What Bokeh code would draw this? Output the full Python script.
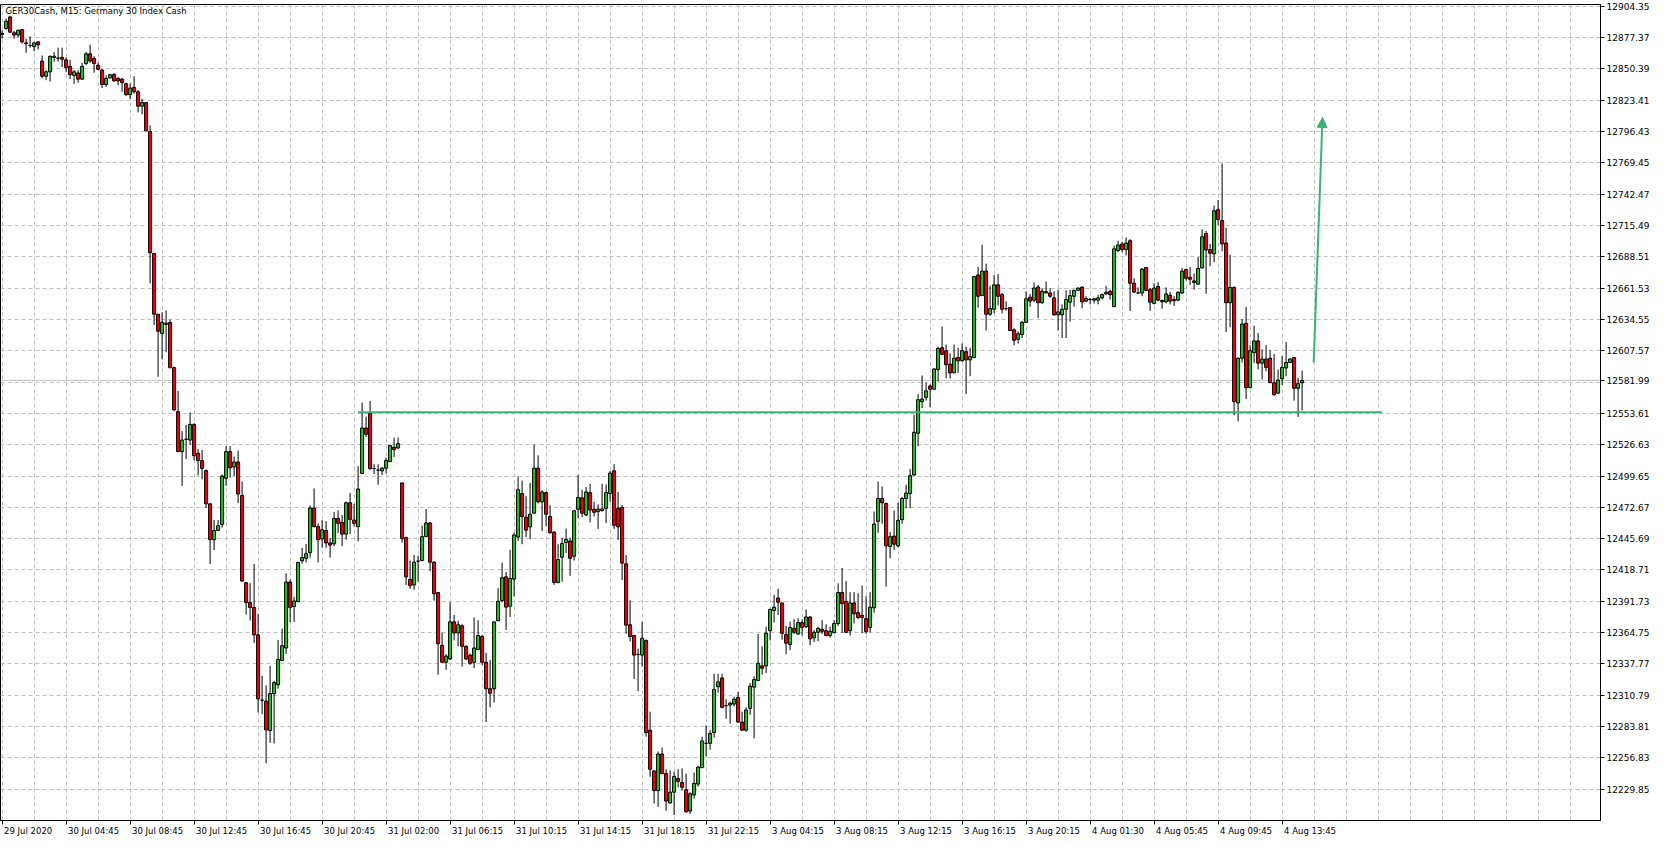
from bokeh.plotting import figure
from bokeh.models import (FixedTicker, Range1d, Span, Label, Arrow, NormalHead,
                          PrintfTickFormatter, ColumnDataSource)
from bokeh.embed import file_html
from bokeh.resources import INLINE

# ---------------- data (GER30Cash, M15) ----------------
title_text = "GER30Cash, M15:  Germany 30 Index Cash"

opens = [12881.0, 12885.2, 12895.1, 12881.4, 12879.5, 12884.2, 12872.7, 12870.5, 12869.6, 12873.6,
         12857.1, 12844.0, 12847.8, 12860.2, 12859.6, 12860.2, 12858.1, 12852.5, 12844.7, 12846.8,
         12841.5, 12855.0, 12863.3, 12859.3, 12853.4, 12849.3, 12836.9, 12842.5, 12845.6, 12842.2,
         12841.5, 12837.5, 12828.2, 12834.4, 12830.6, 12818.2, 12821.3, 12796.4, 12691.4, 12639.0,
         12622.5, 12630.3, 12631.9, 12593.0, 12555.0, 12520.7, 12531.3, 12530.6, 12544.1, 12519.3,
         12512.9, 12504.4, 12475.7, 12444.8, 12452.7, 12458.0, 12497.7, 12520.7, 12507.5, 12511.7,
         12482.8, 12407.7, 12390.6, 12386.4, 12362.8, 12306.6, 12305.7, 12280.4, 12312.2, 12319.8,
         12340.8, 12351.5, 12408.3, 12387.2, 12391.4, 12426.6, 12428.8, 12433.6, 12472.1, 12456.1,
         12445.4, 12452.7, 12442.0, 12441.2, 12463.1, 12459.7, 12449.6, 12476.6, 12461.7, 12456.1,
         12501.9, 12541.0, 12553.6, 12506.1, 12504.7, 12504.1, 12506.4, 12512.0, 12524.4, 12523.8,
         12493.7, 12446.5, 12410.6, 12405.8, 12426.3, 12426.9, 12447.4, 12459.2, 12425.4, 12399.3,
         12353.8, 12339.2, 12342.0, 12374.0, 12364.5, 12370.6, 12352.9, 12345.3, 12339.2, 12350.1,
         12361.4, 12339.2, 12316.4, 12316.4, 12374.9, 12392.3, 12412.8, 12387.5, 12410.8, 12447.1,
         12484.5, 12464.2, 12455.8, 12467.6, 12506.4, 12477.4, 12485.3, 12464.8, 12451.3, 12408.0,
         12429.7, 12442.3, 12443.7, 12430.5, 12471.0, 12480.8, 12466.2, 12485.3, 12471.0, 12469.0,
         12469.9, 12471.8, 12484.5, 12504.1, 12471.8, 12472.6, 12424.0, 12371.5, 12362.2, 12345.9,
         12345.4, 12358.0, 12280.7, 12245.6, 12228.7, 12260.2, 12243.3, 12218.0, 12227.3, 12239.1,
         12235.7, 12229.3, 12211.0, 12225.0, 12234.3, 12248.4, 12269.4, 12269.4, 12278.7, 12318.1,
         12325.7, 12301.8, 12302.3, 12303.2, 12308.8, 12287.7, 12280.7, 12299.5, 12317.8, 12323.4,
         12336.1, 12336.1, 12366.4, 12383.8, 12394.5, 12390.3, 12363.0, 12354.6, 12368.4, 12363.6,
         12373.4, 12369.8, 12378.2, 12360.3, 12365.0, 12367.6, 12366.4, 12362.2, 12364.7, 12372.6,
         12399.3, 12391.7, 12366.4, 12390.3, 12381.9, 12379.6, 12376.8, 12369.2, 12386.1, 12460.6,
         12480.3, 12476.0, 12438.9, 12447.9, 12439.5, 12462.0, 12480.3, 12484.5, 12500.5, 12536.5,
         12563.7, 12567.4, 12577.2, 12574.4, 12591.3, 12610.1, 12607.6, 12596.0, 12588.5, 12601.7,
         12598.9, 12606.7, 12599.7, 12601.7, 12672.8, 12655.1, 12676.1, 12639.0, 12643.3, 12664.3,
         12655.9, 12643.8, 12644.7, 12625.5, 12617.4, 12621.6, 12632.0, 12653.7, 12651.1, 12662.4,
         12648.9, 12658.4, 12657.3, 12653.1, 12638.5, 12638.5, 12643.3, 12649.4, 12654.5, 12659.6,
         12662.4, 12650.3, 12651.7, 12651.1, 12651.1, 12653.1, 12656.5, 12658.7, 12645.5, 12693.8,
         12699.5, 12694.7, 12702.3, 12665.7, 12657.3, 12657.3, 12679.2, 12660.1, 12648.3, 12662.9,
         12650.8, 12649.7, 12655.3, 12651.7, 12651.1, 12657.3, 12677.5, 12670.8, 12667.7, 12664.9,
         12678.9, 12708.5, 12694.7, 12691.0, 12729.0, 12719.7, 12700.3, 12648.9, 12662.1, 12562.6,
         12601.1, 12631.2, 12575.8, 12605.9, 12616.0, 12596.9, 12600.3, 12601.1, 12580.0, 12571.0,
         12583.4, 12592.7, 12597.4, 12601.7, 12575.2, 12580.0]

highs = [12883.6, 12893.6, 12896.1, 12883.0, 12884.2, 12884.8, 12876.4, 12878.3, 12873.6, 12874.3,
         12861.8, 12849.3, 12861.8, 12864.9, 12868.6, 12868.6, 12860.2, 12858.1, 12849.3, 12849.3,
         12855.6, 12864.9, 12871.1, 12861.2, 12855.6, 12850.3, 12844.7, 12846.2, 12846.8, 12843.1,
         12842.5, 12838.4, 12837.8, 12844.0, 12832.2, 12824.4, 12821.9, 12801.7, 12691.4, 12639.0,
         12640.6, 12642.2, 12634.4, 12593.8, 12573.0, 12538.4, 12543.8, 12554.4, 12545.2, 12522.7,
         12522.1, 12505.3, 12475.7, 12461.7, 12461.7, 12501.0, 12525.5, 12525.5, 12516.5, 12521.6,
         12494.9, 12408.3, 12407.4, 12423.8, 12380.8, 12327.6, 12319.2, 12336.1, 12323.1, 12358.3,
         12368.1, 12415.9, 12410.3, 12395.6, 12425.2, 12437.8, 12441.2, 12474.4, 12489.0, 12458.9,
         12461.7, 12460.8, 12446.2, 12468.7, 12470.1, 12465.9, 12477.7, 12485.0, 12475.7, 12508.1,
         12562.9, 12550.8, 12564.3, 12509.8, 12509.8, 12507.5, 12515.4, 12526.6, 12532.8, 12532.8,
         12493.7, 12447.4, 12426.9, 12431.6, 12431.1, 12456.9, 12471.3, 12460.0, 12426.3, 12399.3,
         12364.7, 12346.2, 12390.9, 12379.9, 12374.9, 12372.0, 12353.8, 12346.7, 12377.7, 12375.4,
         12362.8, 12347.3, 12341.1, 12374.0, 12403.0, 12424.9, 12417.0, 12436.1, 12450.7, 12499.1,
         12495.7, 12482.2, 12493.7, 12526.6, 12517.4, 12487.3, 12486.4, 12474.6, 12452.2, 12440.9,
         12446.5, 12454.4, 12446.5, 12470.4, 12500.5, 12487.8, 12490.1, 12492.9, 12477.4, 12475.2,
         12492.9, 12492.3, 12504.1, 12509.8, 12485.9, 12474.6, 12431.6, 12392.6, 12362.2, 12351.0,
         12374.0, 12358.9, 12296.7, 12246.1, 12262.4, 12265.8, 12247.0, 12246.0, 12245.0, 12247.0,
         12247.8, 12243.3, 12227.3, 12244.2, 12249.8, 12275.1, 12284.9, 12280.7, 12329.3, 12329.3,
         12329.3, 12307.4, 12305.2, 12309.6, 12313.6, 12296.7, 12300.4, 12321.5, 12327.1, 12363.6,
         12353.0, 12369.8, 12385.5, 12397.3, 12402.4, 12390.3, 12370.6, 12374.3, 12376.3, 12377.1,
         12376.3, 12384.7, 12379.1, 12367.0, 12369.8, 12375.4, 12372.0, 12369.8, 12375.4, 12407.2,
         12420.4, 12409.1, 12399.6, 12399.6, 12398.7, 12405.2, 12395.9, 12399.6, 12469.0, 12494.9,
         12490.6, 12476.6, 12451.3, 12469.9, 12476.6, 12481.7, 12492.1, 12505.6, 12552.5, 12570.2,
         12586.2, 12580.0, 12578.6, 12592.7, 12611.0, 12628.4, 12612.9, 12605.3, 12612.9, 12610.1,
         12613.7, 12611.0, 12610.1, 12671.9, 12679.8, 12698.9, 12682.6, 12663.5, 12672.8, 12673.6,
         12657.3, 12650.0, 12644.7, 12626.9, 12624.1, 12633.4, 12658.7, 12656.5, 12666.3, 12664.3,
         12661.5, 12667.1, 12661.5, 12658.7, 12660.1, 12647.5, 12659.6, 12660.1, 12660.1, 12662.1,
         12662.9, 12654.5, 12653.1, 12653.1, 12655.9, 12656.8, 12663.5, 12660.1, 12698.1, 12702.3,
         12701.4, 12705.1, 12703.7, 12670.0, 12662.1, 12678.9, 12679.8, 12661.5, 12665.7, 12666.6,
         12651.7, 12662.1, 12658.1, 12654.5, 12658.7, 12678.9, 12678.4, 12679.8, 12674.2, 12688.2,
         12712.1, 12710.7, 12699.5, 12732.6, 12737.4, 12768.9, 12713.5, 12690.2, 12662.9, 12601.7,
         12634.8, 12645.2, 12612.3, 12629.2, 12622.7, 12608.7, 12612.3, 12608.1, 12604.7, 12591.3,
         12603.1, 12615.1, 12601.1, 12601.7, 12584.2, 12590.4]

lows = [12876.4, 12884.2, 12881.1, 12876.4, 12877.4, 12872.1, 12864.3, 12868.6, 12865.5, 12867.1,
        12842.2, 12840.6, 12839.4, 12856.5, 12856.5, 12851.8, 12847.8, 12841.5, 12837.5, 12838.4,
        12841.2, 12853.4, 12855.6, 12847.1, 12849.3, 12833.8, 12834.7, 12842.2, 12839.4, 12836.2,
        12830.6, 12826.9, 12824.4, 12829.1, 12812.9, 12811.3, 12796.4, 12665.5, 12629.7, 12585.2,
        12600.1, 12606.3, 12592.3, 12555.9, 12520.7, 12491.1, 12514.3, 12526.4, 12513.1, 12500.2,
        12496.8, 12472.1, 12423.8, 12435.9, 12452.7, 12455.2, 12491.2, 12498.2, 12499.6, 12476.3,
        12409.1, 12380.2, 12375.1, 12355.7, 12295.9, 12294.5, 12252.3, 12269.7, 12269.2, 12316.4,
        12340.8, 12346.5, 12373.7, 12374.0, 12391.4, 12424.3, 12425.2, 12429.4, 12455.2, 12425.2,
        12437.8, 12437.8, 12429.4, 12439.2, 12450.5, 12439.2, 12444.8, 12449.6, 12456.1, 12443.4,
        12501.9, 12533.4, 12505.0, 12501.3, 12492.1, 12500.5, 12501.9, 12512.0, 12515.9, 12523.0,
        12442.3, 12405.8, 12402.4, 12401.6, 12408.6, 12426.0, 12447.4, 12417.6, 12392.3, 12328.5,
        12339.2, 12332.7, 12341.1, 12358.0, 12352.9, 12335.5, 12341.1, 12336.9, 12334.1, 12350.1,
        12336.9, 12287.7, 12300.4, 12304.6, 12374.9, 12390.9, 12367.0, 12378.2, 12395.9, 12443.7,
        12440.9, 12447.1, 12445.1, 12467.6, 12476.0, 12452.2, 12456.4, 12450.2, 12405.8, 12407.2,
        12408.6, 12433.3, 12413.4, 12426.9, 12463.4, 12464.2, 12464.8, 12459.7, 12464.8, 12454.1,
        12469.0, 12459.2, 12477.4, 12454.1, 12444.6, 12410.0, 12363.6, 12357.1, 12324.8, 12314.4,
        12335.5, 12275.1, 12240.5, 12217.5, 12214.6, 12242.8, 12211.3, 12217.5, 12207.6, 12231.5,
        12228.7, 12209.6, 12208.5, 12221.7, 12232.1, 12248.4, 12258.2, 12263.8, 12274.2, 12313.0,
        12299.5, 12290.5, 12286.3, 12301.2, 12287.2, 12279.9, 12279.3, 12293.9, 12273.7, 12323.4,
        12328.5, 12329.9, 12358.0, 12373.5, 12379.9, 12358.6, 12346.2, 12349.5, 12363.6, 12362.8,
        12362.2, 12368.7, 12353.8, 12356.6, 12357.4, 12363.6, 12361.6, 12360.3, 12364.2, 12370.6,
        12364.5, 12364.5, 12362.2, 12372.6, 12376.3, 12364.2, 12363.6, 12365.0, 12381.9, 12450.7,
        12458.6, 12404.4, 12428.8, 12436.1, 12438.1, 12458.6, 12471.8, 12471.8, 12499.9, 12525.2,
        12558.1, 12564.6, 12558.9, 12574.4, 12580.9, 12603.9, 12583.7, 12583.7, 12588.5, 12588.5,
        12598.3, 12570.2, 12585.6, 12601.1, 12644.7, 12655.1, 12625.0, 12637.6, 12639.9, 12646.6,
        12639.6, 12642.0, 12625.0, 12612.3, 12613.7, 12618.5, 12631.5, 12645.5, 12649.4, 12635.7,
        12648.0, 12657.3, 12653.1, 12637.6, 12625.0, 12618.5, 12618.5, 12632.6, 12645.5, 12659.6,
        12644.1, 12649.4, 12647.5, 12648.3, 12647.5, 12651.7, 12655.9, 12651.7, 12645.5, 12692.4,
        12692.4, 12689.6, 12641.8, 12657.3, 12656.7, 12654.5, 12658.7, 12641.8, 12647.5, 12650.3,
        12643.8, 12648.3, 12647.5, 12646.1, 12650.3, 12656.5, 12668.0, 12664.3, 12660.1, 12664.3,
        12678.4, 12656.7, 12680.4, 12684.0, 12715.5, 12693.3, 12623.6, 12627.8, 12551.9, 12546.8,
        12597.4, 12565.9, 12575.2, 12596.9, 12591.3, 12582.8, 12589.9, 12580.0, 12568.8, 12570.2,
        12578.0, 12585.6, 12596.9, 12564.6, 12550.5, 12556.1]

closes = [12880.0, 12891.4, 12882.0, 12879.5, 12883.6, 12873.6, 12872.1, 12870.5, 12872.7, 12871.1,
          12844.0, 12847.8, 12861.2, 12861.2, 12859.6, 12858.7, 12851.5, 12845.3, 12847.8, 12841.5,
          12852.5, 12863.3, 12857.1, 12855.0, 12850.0, 12836.9, 12842.2, 12845.3, 12840.0, 12840.0,
          12838.4, 12828.2, 12833.8, 12830.6, 12818.2, 12821.3, 12797.0, 12692.0, 12639.0, 12624.4,
          12631.9, 12631.3, 12593.0, 12556.5, 12520.7, 12530.6, 12531.3, 12544.1, 12517.1, 12512.9,
          12506.1, 12475.7, 12444.8, 12452.7, 12456.9, 12499.6, 12520.7, 12506.7, 12511.7, 12484.2,
          12409.1, 12390.6, 12386.4, 12362.8, 12307.7, 12306.6, 12281.0, 12312.2, 12321.7, 12341.7,
          12353.5, 12408.3, 12386.4, 12392.0, 12425.2, 12429.4, 12432.7, 12472.1, 12456.1, 12444.8,
          12453.3, 12442.0, 12440.1, 12463.1, 12458.9, 12449.6, 12476.6, 12462.3, 12458.9, 12488.4,
          12541.0, 12535.6, 12506.1, 12506.1, 12504.7, 12506.4, 12513.1, 12525.8, 12522.4, 12527.5,
          12445.7, 12412.8, 12405.2, 12425.4, 12426.3, 12447.4, 12459.2, 12425.4, 12398.2, 12355.2,
          12339.2, 12344.5, 12374.0, 12364.5, 12371.5, 12352.9, 12342.0, 12338.3, 12351.5, 12362.2,
          12339.2, 12316.4, 12312.5, 12374.0, 12391.7, 12412.0, 12386.7, 12411.4, 12448.8, 12487.8,
          12464.8, 12453.0, 12466.7, 12506.4, 12477.4, 12485.9, 12466.7, 12450.7, 12408.0, 12427.7,
          12441.5, 12445.1, 12428.8, 12469.6, 12481.1, 12467.6, 12485.9, 12470.4, 12468.4, 12471.0,
          12471.3, 12485.3, 12502.2, 12457.2, 12455.8, 12424.6, 12371.2, 12361.4, 12345.4, 12345.9,
          12359.9, 12278.7, 12247.0, 12228.7, 12260.2, 12243.3, 12219.7, 12227.3, 12240.8, 12236.6,
          12231.5, 12210.4, 12225.9, 12234.9, 12248.9, 12271.4, 12269.4, 12277.9, 12315.8, 12322.3,
          12300.4, 12301.8, 12304.0, 12307.4, 12287.7, 12280.7, 12298.1, 12318.6, 12324.3, 12338.3,
          12334.1, 12364.2, 12384.7, 12386.6, 12390.9, 12364.2, 12355.7, 12369.2, 12365.0, 12373.4,
          12369.2, 12378.2, 12359.4, 12365.0, 12368.4, 12365.9, 12362.2, 12365.9, 12372.6, 12399.3,
          12389.7, 12365.0, 12390.3, 12381.0, 12377.7, 12377.7, 12365.6, 12386.6, 12458.3, 12480.3,
          12476.6, 12439.5, 12447.4, 12440.9, 12461.4, 12480.3, 12485.0, 12499.9, 12537.3, 12565.4,
          12565.9, 12573.0, 12574.4, 12591.8, 12609.5, 12604.5, 12595.5, 12588.5, 12601.1, 12598.9,
          12607.6, 12599.7, 12602.5, 12671.4, 12654.5, 12676.1, 12639.0, 12643.8, 12664.3, 12654.5,
          12643.3, 12643.8, 12625.0, 12616.6, 12622.2, 12632.0, 12652.3, 12650.3, 12661.5, 12648.9,
          12658.7, 12657.3, 12654.5, 12638.5, 12641.0, 12643.3, 12651.7, 12655.1, 12659.6, 12661.5,
          12649.7, 12652.5, 12651.7, 12652.3, 12653.1, 12655.9, 12657.9, 12655.9, 12695.3, 12698.6,
          12694.7, 12700.3, 12665.7, 12658.1, 12657.3, 12677.8, 12659.6, 12649.4, 12661.5, 12651.1,
          12649.7, 12656.5, 12650.3, 12650.6, 12657.9, 12676.1, 12670.0, 12669.1, 12666.3, 12678.4,
          12705.7, 12694.4, 12691.6, 12728.1, 12720.5, 12699.5, 12648.9, 12662.1, 12563.7, 12601.1,
          12630.6, 12575.8, 12607.6, 12616.0, 12596.9, 12600.3, 12593.2, 12580.0, 12569.6, 12582.3,
          12593.2, 12597.4, 12600.5, 12575.2, 12579.2, 12581.99]

# time-axis labels (bar index -> label)
time_tick_bars = [0, 16, 32, 48, 64, 80, 96, 112, 128, 144, 160, 176, 192, 208, 224, 240, 256, 272, 288, 304, 320]
time_tick_labels = ["29 Jul 2020", "30 Jul 04:45", "30 Jul 08:45", "30 Jul 12:45", "30 Jul 16:45",
                    "30 Jul 20:45", "31 Jul 02:00", "31 Jul 06:15", "31 Jul 10:15", "31 Jul 14:15",
                    "31 Jul 18:15", "31 Jul 22:15", "3 Aug 04:15", "3 Aug 08:15", "3 Aug 12:15",
                    "3 Aug 16:15", "3 Aug 20:15", "4 Aug 01:30", "4 Aug 05:45", "4 Aug 09:45",
                    "4 Aug 13:45"]

# price-axis grid levels
price_top_tick = 12904.35
price_step = 26.98
price_tick_count = 26

current_price = 12581.99
level_price = 12554.5
level_bars = [89, 345]
arrow_bars = [327.9, 330.1]
arrow_prices = [12597.4, 12808.5]

y_view = [12202.9, 12905.8]

# ---------------- layout / styling ----------------
FRAME_W = 1600
FRAME_H = 816
BAR_PX = 4.0
x_view = [-0.4, -0.4 + FRAME_W / BAR_PX]

BULL = "#2EB82E"
BEAR = "#F00000"
GRID = "#C0C0C0"
MARK = "#3CB371"
FONT = "DejaVu Sans"
XFS = 8.5

# approximate DejaVu Sans advance widths (em) -> used to left-align time labels
_W = {c: 0.636 for c in "0123456789"}
_W.update({" ": 0.318, ":": 0.337, "J": 0.295, "u": 0.634, "l": 0.278, "A": 0.684, "g": 0.635})


def text_px(s, size):
    return sum(_W.get(ch, 0.6) for ch in s) * size


n = len(opens)
src = ColumnDataSource(dict(
    x=list(range(n)), open=opens, high=highs, low=lows, close=closes,
    top=[max(o, c) for o, c in zip(opens, closes)],
    bottom=[min(o, c) for o, c in zip(opens, closes)],
    color=[BULL if c >= o else BEAR for o, c in zip(opens, closes)],
))

p = figure(frame_width=FRAME_W, frame_height=FRAME_H,
           x_range=Range1d(*x_view), y_range=Range1d(*y_view),
           output_backend="svg", toolbar_location=None,
           y_axis_location="right",
           min_border_left=0, min_border_right=0, min_border_top=4, min_border_bottom=0)
p.background_fill_color = "white"
p.border_fill_color = "white"
p.outline_line_color = "black"
p.outline_line_width = 1

# x axis: labels placed to the right of their tick marks (MetaTrader style)
label_centers = [round(b + (2 + text_px(lab, XFS) / 2) / BAR_PX, 3)
                 for b, lab in zip(time_tick_bars, time_tick_labels)]
p.xaxis.ticker = FixedTicker(ticks=label_centers, minor_ticks=time_tick_bars)
p.xaxis.major_label_overrides = {c: lab for c, lab in zip(label_centers, time_tick_labels)}
p.xaxis.axis_label = None
p.xaxis.axis_label_standoff = 0
p.xaxis.major_tick_line_color = None
p.xaxis.major_tick_in = 0
p.xaxis.major_tick_out = 4
p.xaxis.minor_tick_line_color = "black"
p.xaxis.minor_tick_in = 0
p.xaxis.minor_tick_out = 4
p.xaxis.major_label_standoff = 1
p.xaxis.axis_line_color = "black"
p.xaxis.major_label_text_font = FONT
p.xaxis.major_label_text_font_size = f"{XFS}px"
p.xaxis.major_label_text_color = "black"

# y axis
price_ticks = [round(price_top_tick - price_step * k, 2) for k in range(price_tick_count)]
hidden_tick = min(price_ticks, key=lambda t: abs(t - current_price))
label_ticks = sorted([t for t in price_ticks if t != hidden_tick] + [current_price])
p.yaxis.ticker = FixedTicker(ticks=label_ticks)
p.yaxis.formatter = PrintfTickFormatter(format="%.2f")
p.yaxis.axis_label = None
p.yaxis.axis_label_standoff = 0
p.yaxis.major_tick_in = 0
p.yaxis.major_tick_out = 4
p.yaxis.minor_tick_line_color = None
p.yaxis.major_label_standoff = 2
p.yaxis.axis_line_color = "black"
p.yaxis.major_tick_line_color = "black"
p.yaxis.major_label_text_font = FONT
p.yaxis.major_label_text_font_size = "9px"
p.yaxis.major_label_text_color = "black"

# grid (every 8 bars / every price step)
grid_bars = list(range(0, 401, 8))
p.xgrid.ticker = FixedTicker(ticks=grid_bars)
p.xgrid.grid_line_color = GRID
p.xgrid.grid_line_dash = "4 3"
p.ygrid.ticker = FixedTicker(ticks=price_ticks)
p.ygrid.grid_line_color = GRID
p.ygrid.grid_line_dash = "4 3"

# current price line
p.add_layout(Span(location=current_price, dimension="width", line_color=GRID,
                  line_width=1, level="underlay"))

# candles
p.segment(x0="x", y0="low", x1="x", y1="high", source=src, line_color="black", line_width=1)
p.vbar(x="x", width=0.75, top="top", bottom="bottom", source=src,
       fill_color="color", line_color="black", line_width=1)

# support level + arrow
p.line(level_bars, [level_price, level_price], line_color=MARK, line_width=2)
p.add_layout(Arrow(end=NormalHead(size=10, fill_color=MARK, line_color=MARK),
                   x_start=arrow_bars[0], y_start=arrow_prices[0],
                   x_end=arrow_bars[1], y_end=arrow_prices[1],
                   line_color=MARK, line_width=2))

# title inside chart
p.add_layout(Label(x=x_view[0], y=y_view[1], x_offset=5, y_offset=-1, text=title_text,
                   text_baseline="top", text_align="left", text_font=FONT,
                   text_font_size="8.5px", text_color="black"))

open("out.html", "w").write(file_html(p, INLINE))
